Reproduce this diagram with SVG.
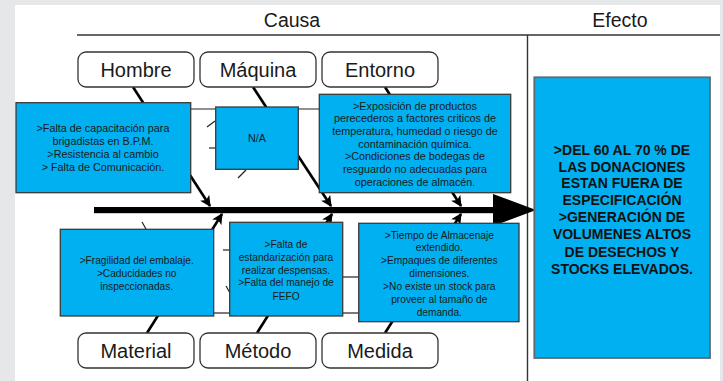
<svg xmlns="http://www.w3.org/2000/svg" width="723" height="381" viewBox="0 0 723 381">
<style>
.bg{fill:#e6e7e9}
.title{font-family:"Liberation Sans",Arial,sans-serif;font-size:19.5px;fill:#1a1a1a;text-anchor:middle}
.cat rect{fill:#fff;stroke:#333;stroke-width:1.3}
.cat text{font-family:"Liberation Sans",Arial,sans-serif;font-size:20px;fill:#1a1a1a;text-anchor:middle}
.cause rect{fill:#00b0f0;stroke:#3a3a3a;stroke-width:1.3}
.cause text{font-family:"Liberation Sans",Arial,sans-serif;font-size:10.8px;fill:#1a1a1a;text-anchor:middle}
.cause.low text{font-size:10.2px}
.effect rect{fill:#00b0f0;stroke:#5f6b70;stroke-width:1.8}
.effect text{font-family:"Liberation Sans",Arial,sans-serif;font-size:14px;font-weight:bold;fill:#111;text-anchor:middle}
.bone{stroke:#000;stroke-width:2.6;fill:none;marker-end:url(#ah)}
.sub{stroke:#222;stroke-width:1.2;fill:none}
.frame{stroke:#333;stroke-width:1.4;fill:none}
</style>
<defs>
<marker id="ah" viewBox="0 0 10 10" refX="9" refY="5" markerWidth="4.2" markerHeight="4.2" orient="auto" markerUnits="strokeWidth">
<path d="M0,0 L10,5 L0,10 L2.5,5 Z" fill="#000"/>
</marker>
</defs>
<rect class="bg" x="0" y="0" width="723" height="381"/>
<rect x="15" y="5" width="705" height="376" fill="#fff"/>

<g id="headers">
<text class="title" x="292" y="27">Causa</text>
<text class="title" x="620" y="27">Efecto</text>
<line class="frame" x1="77" y1="35" x2="720" y2="35"/>
<line class="frame" x1="527.5" y1="35" x2="527.5" y2="381"/>
</g>

<g id="connectors">
<line class="sub" x1="185" y1="109" x2="322" y2="109"/>
<line class="sub" x1="207" y1="127" x2="215" y2="121"/>
<line class="sub" x1="209" y1="148" x2="216" y2="148"/>
<line class="sub" x1="238" y1="178" x2="246" y2="170"/>
<line class="sub" x1="142" y1="222" x2="146" y2="229"/>
<line class="sub" x1="223" y1="250" x2="230" y2="250"/>
<line class="sub" x1="226" y1="286" x2="230" y2="293"/>
<line class="sub" x1="210" y1="313" x2="232" y2="313"/>
<line class="sub" x1="340" y1="277" x2="360" y2="277"/>
<line class="sub" x1="340" y1="313" x2="360" y2="313"/>
<line class="bone" x1="133" y1="87" x2="210" y2="206"/>
<line class="bone" x1="253" y1="87" x2="331" y2="206"/>
<line class="bone" x1="385" y1="87" x2="461" y2="206"/>
<line class="bone" x1="147" y1="333" x2="222" y2="214"/>
<line class="bone" x1="257" y1="333" x2="332" y2="214"/>
<line class="bone" x1="385" y1="333" x2="461" y2="214"/>
<rect x="94" y="207" width="402" height="6.2" fill="#000"/>
<path d="M493,194 L536,210 L493,226 Z" fill="#000"/>
</g>

<g id="hombre" class="cat">
<rect x="78" y="52" width="116" height="35" rx="8"/>
<text x="136" y="77">Hombre</text>
</g>
<g id="maquina" class="cat">
<rect x="200" y="52" width="116" height="35" rx="8"/>
<text x="258" y="77">Máquina</text>
</g>
<g id="entorno" class="cat">
<rect x="322" y="52" width="116" height="35" rx="8"/>
<text x="380" y="77">Entorno</text>
</g>
<g id="material" class="cat">
<rect x="78" y="333" width="116" height="35" rx="8"/>
<text x="136" y="358">Material</text>
</g>
<g id="metodo" class="cat">
<rect x="200" y="333" width="116" height="35" rx="8"/>
<text x="258" y="358">Método</text>
</g>
<g id="medida" class="cat">
<rect x="322" y="333" width="116" height="35" rx="8"/>
<text x="380" y="358">Medida</text>
</g>

<g id="causa-hombre" class="cause">
<rect x="16" y="102.7" width="174.7" height="90"/>
<text x="103" y="131.8">&gt;Falta de capacitación para</text>
<text x="103" y="145.3">brigadistas en B.P.M.</text>
<text x="103" y="157.8">&gt;Resistencia al cambio</text>
<text x="103" y="170.8">&gt; Falta de Comunicación.</text>
</g>
<g id="causa-maquina" class="cause">
<rect x="215.7" y="107" width="82.6" height="62.3"/>
<text x="257" y="142">N/A</text>
</g>
<g id="causa-entorno" class="cause">
<rect x="319.3" y="94.3" width="191.4" height="98.4"/>
<text x="415" y="109.8">&gt;Exposición de productos</text>
<text x="415" y="122.3">perecederos a factores criticos de</text>
<text x="415" y="134.9">temperatura, humedad o riesgo de</text>
<text x="415" y="147.6">contaminación química.</text>
<text x="415" y="160.3">&gt;Condiciones de bodegas de</text>
<text x="415" y="173">resguardo no adecuadas para</text>
<text x="415" y="186">operaciones de almacén.</text>
</g>
<g id="causa-material" class="cause low">
<rect x="60.3" y="229.3" width="153.4" height="86.7"/>
<text x="136.7" y="264.3">&gt;Fragilidad del embalaje.</text>
<text x="136.7" y="277">&gt;Caducidades no</text>
<text x="136.7" y="290.3">inspeccionadas.</text>
</g>
<g id="causa-metodo" class="cause low">
<rect x="229.7" y="222.3" width="113" height="93.7"/>
<text x="286" y="247.6">&gt;Falta de</text>
<text x="286" y="261">estandarización para</text>
<text x="286" y="273.6">realizar despensas.</text>
<text x="286" y="286.3">&gt;Falta del manejo de</text>
<text x="286" y="299.6">FEFO</text>
</g>
<g id="causa-medida" class="cause low">
<rect x="358.7" y="223.3" width="160.3" height="98.4"/>
<text x="439.3" y="238.6">&gt;Tiempo de Almacenaje</text>
<text x="439.3" y="251.3">extendido.</text>
<text x="439.3" y="264.3">&gt;Empaques de diferentes</text>
<text x="439.3" y="276.9">dimensiones.</text>
<text x="439.3" y="290.3">&gt;No existe un stock para</text>
<text x="439.3" y="302.9">proveer  al tamaño de</text>
<text x="439.3" y="315.9">demanda.</text>
</g>

<g id="efecto" class="effect">
<rect x="534.3" y="77.3" width="175.7" height="280.7"/>
<text x="622" y="155">&gt;DEL 60 AL 70 % DE</text>
<text x="622" y="171.5">LAS DONACIONES</text>
<text x="622" y="188">ESTAN FUERA DE</text>
<text x="622" y="205">ESPECIFICACIÓN</text>
<text x="622" y="222.3">&gt;GENERACIÓN DE</text>
<text x="622" y="239.3">VOLUMENES ALTOS</text>
<text x="622" y="256.7">DE DESECHOS Y</text>
<text x="622" y="274.3">STOCKS ELEVADOS.</text>
</g>
</svg>
